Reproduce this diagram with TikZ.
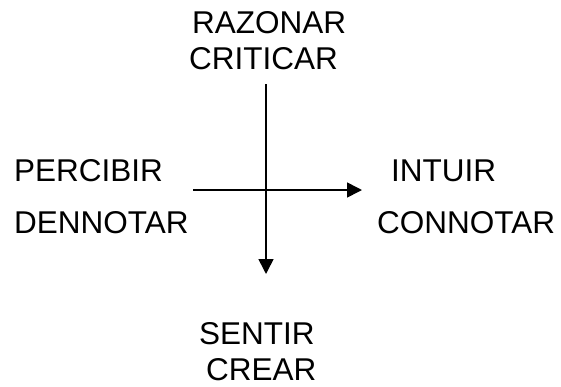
\documentclass[tikz,border=0pt]{standalone}
\usepackage{fontspec}
\setmainfont{Liberation Sans}
\usetikzlibrary{arrows.meta}
\begin{document}
\begin{tikzpicture}[x=1pt,y=-1pt,
  lbl/.style={inner sep=0pt, anchor=base west, font=\fontsize{31.5}{36}\selectfont},
  axis/.style={line width=1.6pt, -{Triangle[length=15pt,width=15pt]}}]
\useasboundingbox (0,0) rectangle (561,386);
\node[lbl] (razonar) at (192,33) {RAZONAR};
\node[lbl] (criticar) at (189,69) {CRITICAR};
\node[lbl] (percibir) at (14,181) {PERCIBIR};
\node[lbl] (dennotar) at (14,233) {DENNOTAR};
\node[lbl] (intuir) at (391,181) {INTUIR};
\node[lbl] (connotar) at (377,233) {CONNOTAR};
\node[lbl] (sentir) at (199,344) {SENTIR};
\node[lbl] (crear) at (206,380) {CREAR};
\coordinate (vtop) at (266,84);
\coordinate (vbot) at (266,274);
\coordinate (hleft) at (193,190);
\coordinate (hright) at (362,190);
\draw[axis] (vtop) -- (vbot);
\draw[axis] (hleft) -- (hright);
\end{tikzpicture}
\end{document}
